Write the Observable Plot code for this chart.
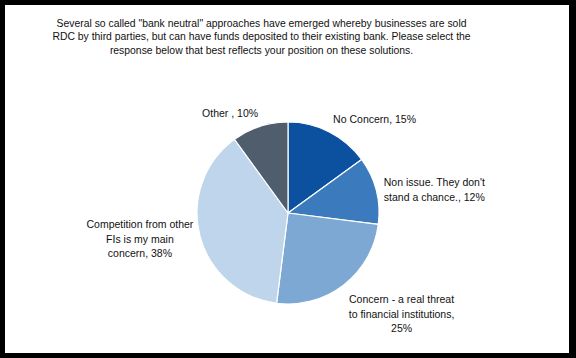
<!DOCTYPE html>
<html>
<head>
<meta charset="utf-8">
<script src="https://cdn.jsdelivr.net/npm/d3@7"></script>
<script src="https://cdn.jsdelivr.net/npm/@observablehq/plot@0.6"></script>
<style>
  html, body { margin: 0; padding: 0; background: #000; }
  #frame { position: absolute; left: 5px; top: 5px; width: 564px; height: 348px; background: #fff; overflow: hidden; }
  #title { position: absolute; left: 0; top: 12px; width: 513px; text-align: center;
           font-family: "Liberation Sans", Arial, sans-serif; font-size: 10.4px; line-height: 13.4px; color: #111; }
  #chart { position: absolute; left: 0; top: 60px; }
  #chart svg { display: block; background: #fff; }
</style>
</head>
<body>
<div id="frame">
  <div id="title">Several so called "bank neutral" approaches have emerged whereby businesses are sold<br>RDC by third parties, but can have funds deposited to their existing bank. Please select the<br>response below that best reflects your position on these solutions.</div>
  <div id="chart"></div>
</div>
<script>
// ---- data ----
const categories = [
  "No Concern",
  "Non issue. They don't\nstand a chance.",
  "Concern - a real threat\nto financial institutions",
  "Competition from other\nFIs is my main\nconcern",
  "Other "
];
const values = [15, 12, 25, 38, 10];
const separators = [", ", ", ", ",\n", ", ", ", "];
const colors = ["#0b51a0", "#3b7bbd", "#7ea8d4", "#bed5eb", "#4f5d6d"];

// ---- layout ----
const W = 564, H = 288, CX = 283, CY = 148, R = 91;
const FONT = 10.5, LH = 1.38;

const data = categories.map((c, i) => ({category: c, value: values[i], label: c + separators[i] + values[i] + "%"}));
const color = Plot.scale({color: {domain: categories, range: colors}});

const arcs = d3.pie().sort(null).value(d => d.value)(data);
const ctx = document.createElement("canvas").getContext("2d");
ctx.font = `${FONT}px "Liberation Sans", Arial, sans-serif`;

const K = 1.08;
const labels = arcs.map(a => {
  const mid = (a.startAngle + a.endAngle) / 2;
  const s = Math.sin(mid), c = Math.cos(mid);
  const ax = K * s, ay = K * c;
  const lines = a.data.label.split("\n");
  const w = d3.max(lines, l => ctx.measureText(l).width) / R;
  const h = lines.length * FONT * LH / R;
  const x = ax + Math.sign(s) * w / 2;
  const y = c > 0.5 ? ay + h / 2 : c < -0.5 ? ay - h / 2 : ay;
  return {x, y, label: a.data.label};
});

function pie(index, scales, values, dims, context) {
  const cx = scales.x(0), cy = scales.y(0), r = scales.x(1) - scales.x(0);
  const g = d3.create("svg:g").attr("transform", `translate(${cx},${cy})`);
  g.selectAll("path").data(arcs).join("path")
    .attr("d", d3.arc().innerRadius(0).outerRadius(r))
    .attr("fill", d => color.apply(d.data.category))
    .attr("stroke", "#fff")
    .attr("stroke-width", 1.2)
    .attr("stroke-linejoin", "round");
  return g.node();
}

const chart = Plot.plot({
  width: W,
  height: H,
  margin: 0,
  style: {fontFamily: '"Liberation Sans", Arial, sans-serif', fontSize: FONT + "px", background: "#fff", color: "#111"},
  x: {domain: [-CX / R, (W - CX) / R], axis: null},
  y: {domain: [-(H - CY) / R, CY / R], axis: null},
  marks: [
    pie,
    Plot.text(labels, {x: "x", y: "y", text: "label", textAnchor: "middle", lineAnchor: "middle", lineHeight: LH, fill: "#111", fontSize: FONT})
  ]
});
document.getElementById("chart").appendChild(chart);
</script>
</body>
</html>
